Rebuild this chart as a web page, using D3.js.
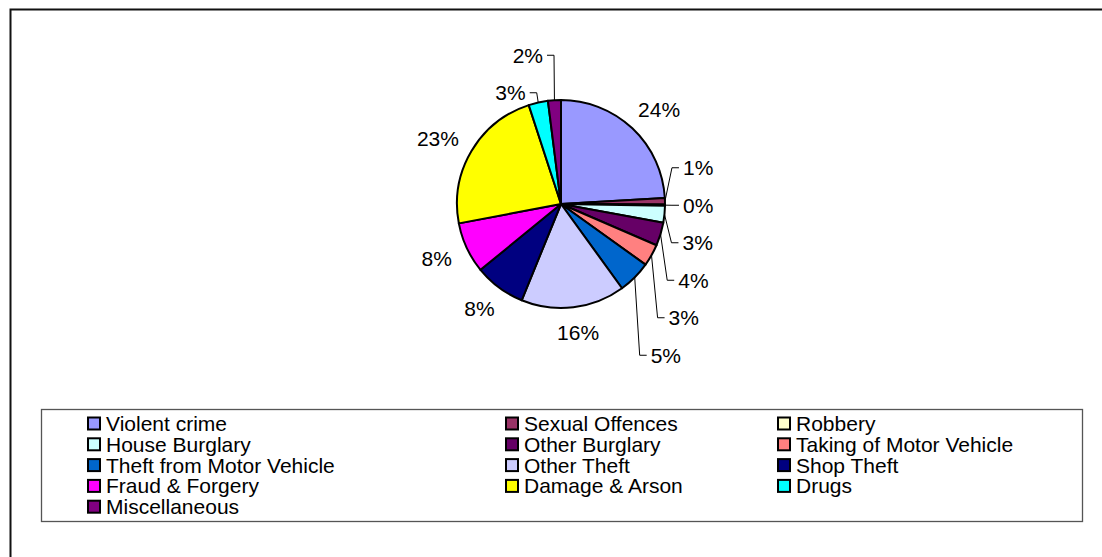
<!DOCTYPE html>
<html>
<head>
<meta charset="utf-8">
<script src="https://cdn.jsdelivr.net/npm/d3@7"></script>
<style>
  html, body { margin: 0; padding: 0; background: #fff; }
  svg { display: block; }
  text { font-family: Arial, "Liberation Sans", sans-serif; fill: #000; }
</style>
</head>
<body>
<svg id="chart" width="1102" height="557"></svg>
<script>
// ---- data ----
const categories = [
  "Violent crime", "Sexual Offences", "Robbery",
  "House Burglary", "Other Burglary", "Taking of Motor Vehicle",
  "Theft from Motor Vehicle", "Other Theft", "Shop Theft",
  "Fraud & Forgery", "Damage & Arson", "Drugs",
  "Miscellaneous"
];
const values = [24.0, 1.0, 0.2, 2.6, 3.6, 3.4, 5.1, 16.1, 7.9, 7.9, 22.9, 3.0, 2.0];
const colors = [
  "#9999FF", "#993366", "#FFFFCC",
  "#CCFFFF", "#660066", "#FF8080",
  "#0066CC", "#CCCCFF", "#000080",
  "#FF00FF", "#FFFF00", "#00FFFF",
  "#800080"
];

// ---- layout ----
const cx = 561, cy = 204, R = 104;
const fontSize = 21;
const svg = d3.select("#chart");

// outer chart frame
svg.append("rect")
  .attr("x", 10.5).attr("y", 9.5)
  .attr("width", 1300).attr("height", 800)
  .attr("fill", "none").attr("stroke", "#111").attr("stroke-width", 2);

const data = categories.map((c, i) => ({ name: c, value: values[i], color: colors[i] }));
const total = d3.sum(values);
const pct = d3.format(".0%");

const pie = d3.pie().sort(null).value(d => d.value);
const arcs = pie(data);
const arcGen = d3.arc().innerRadius(0).outerRadius(R);

const g = svg.append("g").attr("transform", `translate(${cx},${cy})`);
g.selectAll("path.slice")
  .data(arcs)
  .join("path")
  .attr("class", "slice")
  .attr("d", arcGen)
  .attr("fill", d => d.data.color)
  .attr("stroke", "#000")
  .attr("stroke-width", 2)
  .attr("stroke-linejoin", "round");

// ---- labels ----
const smallThreshold = 0.06;
const labels = arcs.map(a => {
  const mid = (a.startAngle + a.endAngle) / 2;
  return {
    arc: a,
    mid,
    s: Math.sin(mid),
    c: Math.cos(mid),
    text: pct(a.data.value / total),
    small: a.data.value / total < smallThreshold
  };
});

const lg = svg.append("g").attr("transform", `translate(${cx},${cy})`);

// large labels: text box placed just outside the pie
const pad = 18;
labels.filter(l => !l.small).forEach(l => {
  const t = lg.append("text")
    .attr("font-size", fontSize)
    .attr("text-anchor", "middle")
    .attr("dy", "0.36em")
    .text(l.text);
  const w = t.node().getComputedTextLength();
  const h = fontSize * 0.72;
  const x = (R + pad + w / 2) * l.s;
  const y = -(R + pad + h / 2) * l.c;
  t.attr("x", x).attr("y", y);
});

// small labels: leader lines, stacked vertically around an anchor
const leaderR = R + 10;
const spacing = 37.5;
["right", "left"].forEach(side => {
  const grp = labels.filter(l => l.small && (side === "right" ? l.s >= 0 : l.s < 0));
  if (!grp.length) return;
  grp.forEach(l => { l.ny = -leaderR * l.c; });
  grp.sort((a, b) => a.ny - b.ny);
  let k = 0;
  grp.forEach((l, i) => { if (Math.abs(l.ny) < Math.abs(grp[k].ny)) k = i; });
  grp[k].y = grp[k].ny;
  for (let i = k + 1; i < grp.length; i++) grp[i].y = Math.max(grp[i].ny, grp[i - 1].y + spacing);
  for (let i = k - 1; i >= 0; i--) grp[i].y = Math.min(grp[i].ny, grp[i + 1].y - spacing);
  const dir = side === "right" ? 1 : -1;
  grp.forEach(l => {
    const ex = R * l.s, ey = -R * l.c;
    const px = ex + 7 * l.s;
    const hx = px + dir * 7;
    lg.append("polyline")
      .attr("points", [[ex, ey], [px, l.y], [hx, l.y]].map(p => p.join(",")).join(" "))
      .attr("fill", "none").attr("stroke", "#000").attr("stroke-width", 1);
    lg.append("text")
      .attr("font-size", fontSize)
      .attr("text-anchor", side === "right" ? "start" : "end")
      .attr("x", hx + dir * 4)
      .attr("y", l.y)
      .attr("dy", "0.36em")
      .text(l.text);
  });
});

// ---- legend ----
const legendBox = { x: 41, y: 409, w: 1041, h: 112 };
svg.append("rect")
  .attr("x", legendBox.x + 0.5).attr("y", legendBox.y + 0.5)
  .attr("width", legendBox.w).attr("height", legendBox.h)
  .attr("fill", "#fff").attr("stroke", "#555").attr("stroke-width", 1.3);

const colX = [88, 506, 778];
const rowY0 = 423.5, rowH = 20.8;
const leg = svg.append("g");
const items = leg.selectAll("g.item")
  .data(data)
  .join("g")
  .attr("class", "item")
  .attr("transform", (d, i) => `translate(${colX[i % 3]},${rowY0 + Math.floor(i / 3) * rowH})`);
items.append("rect")
  .attr("x", 0).attr("y", -6)
  .attr("width", 12).attr("height", 12)
  .attr("fill", d => d.color)
  .attr("stroke", "#000").attr("stroke-width", 2);
items.append("text")
  .attr("x", 18).attr("y", 0)
  .attr("dy", "0.36em")
  .attr("font-size", fontSize)
  .text(d => d.name);
</script>
</body>
</html>
